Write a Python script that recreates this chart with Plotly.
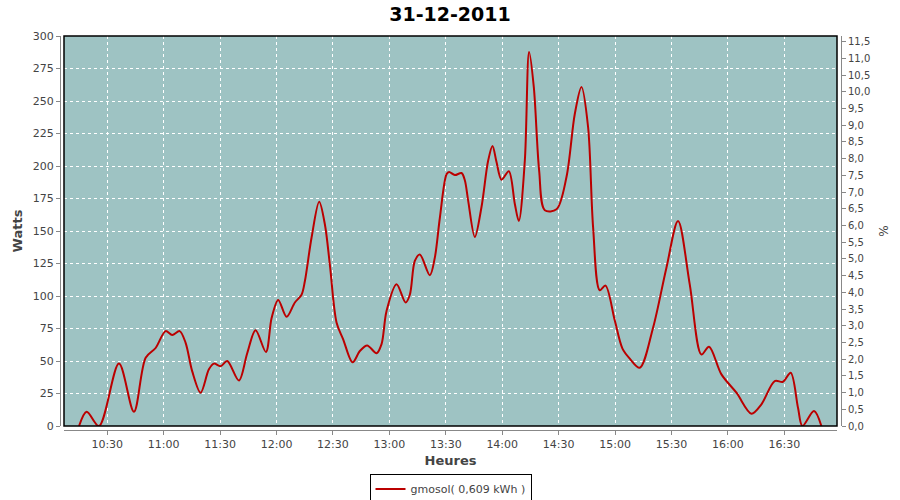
import plotly.graph_objects as go

DAY = "2011-12-31 "
times = ["10:15:00", "10:19:03", "10:25:35", "10:36:13", "10:44:11", "10:50:25", "10:55:43",
         "11:01:02", "11:04:33", "11:08:29", "11:11:40", "11:15:11", "11:19:38", "11:24:03",
         "11:26:43", "11:30:16", "11:33:47", "11:40:00", "11:44:25", "11:48:52", "11:54:21",
         "11:57:23", "12:00:53", "12:05:21", "12:09:46", "12:13:19", "12:15:05", "12:18:38",
         "12:22:41", "12:25:43", "12:28:22", "12:31:56", "12:35:26", "12:40:26", "12:44:19",
         "12:48:11", "12:53:11", "12:55:50", "12:58:30", "13:03:49", "13:08:36", "13:10:53",
         "13:13:32", "13:16:12", "13:21:31", "13:24:10", "13:26:50", "13:30:23", "13:31:46",
         "13:34:48", "13:38:22", "13:40:07", "13:41:52", "13:45:26", "13:48:59", "13:52:30",
         "13:54:50", "13:56:58", "13:59:37", "14:03:30", "14:06:41", "14:08:49", "14:12:01",
         "14:14:17", "14:16:47", "14:19:37", "14:22:38", "14:28:52", "14:34:10", "14:38:35",
         "14:42:08", "14:45:39", "14:48:19", "14:51:52", "14:54:54", "14:59:50", "15:03:56",
         "15:07:49", "15:13:08", "15:20:12", "15:27:19", "15:33:29", "15:39:42", "15:45:55",
         "15:49:58", "15:56:33", "16:04:32", "16:12:30", "16:17:49", "16:24:53", "16:29:17",
         "16:33:23", "16:37:16", "16:39:36", "16:45:46", "16:49:42"]
watts = [0, 11, 0, 48, 11, 52.5, 60,
         73, 70, 73, 64, 42, 25.6, 43.6,
         48, 46, 50, 35, 56, 73.6, 57,
         83, 97, 84, 95, 101, 111.5, 145,
         172.5, 155, 124, 79.5, 66.7, 49, 57.7,
         62, 56, 63, 88.5, 109, 95, 101,
         127, 132, 116, 129.5, 160, 193.6, 195.4,
         193, 194.6, 189, 173.6, 145.4, 168.5, 204,
         215.4, 203, 189.5, 196, 171, 157.7, 204,
         287.7, 260.8, 196.7, 166, 166.7, 191.5, 240,
         260.8, 230, 153, 104.4, 108, 81.3, 59.5,
         51.8, 44.8, 75.6, 121.8, 157.7, 109, 55,
         61, 39.7, 25.6, 9.5, 16.7, 34.6, 34,
         41, 14, 0, 11.5, 0]

tick_times = ["10:30", "11:00", "11:30", "12:00", "12:30", "13:00", "13:30",
              "14:00", "14:30", "15:00", "15:30", "16:00", "16:30"]
x_range = ["10:07:00", "16:58:00"]
watts_range = [0, 300]
pct_range = [0, 11.67]
series_name = "gmosol( 0,609 kWh )"
title_text = "31-12-2011"

x = [DAY + t for t in times]
GRAY = "#444444"
AXIS = "#888888"
FONT = "DejaVu Sans"

fig = go.Figure()
fig.add_trace(go.Scatter(
    x=x, y=watts, mode="lines", name=series_name,
    line=dict(color="#bb0000", width=2, shape="spline", smoothing=0.9),
    hoverinfo="skip",
))
fig.add_trace(go.Scatter(
    x=[x[0]], y=[None], yaxis="y2", mode="lines", showlegend=False, hoverinfo="skip",
))

W, H = 900, 500
ml, mr, mt, mb = 60, 59, 36, 70
pw = W - ml - mr
ph = H - mt - mb

fig.update_layout(
    width=W, height=H,
    margin=dict(l=ml, r=mr, t=mt, b=mb, pad=0, autoexpand=False),
    paper_bgcolor="white",
    plot_bgcolor="#9ec3c3",
    separators=",.",
    font=dict(family=FONT, size=11, color=GRAY),
    title=dict(text="<b>" + title_text + "</b>", x=0.5, xanchor="center",
               yref="container", y=1 - 14 / H, yanchor="middle", automargin=False,
               font=dict(family=FONT, size=19, color="black")),
    showlegend=True,
    legend=dict(orientation="h", x=0.5, xanchor="center", y=-(489 - 430) / ph, yanchor="middle",
                bordercolor="black", borderwidth=1, bgcolor="white",
                font=dict(family=FONT, size=11, color=GRAY), itemwidth=30),
    xaxis=dict(
        type="date", domain=[4 / pw, 1 - 4 / pw], automargin=False,
        range=[DAY + x_range[0], DAY + x_range[1]],
        tickvals=[DAY + t for t in tick_times], ticktext=tick_times,
        showgrid=True, gridcolor="white", griddash="dot", gridwidth=1,
        showline=True, linecolor=AXIS, linewidth=1,
        ticks="outside", ticklen=4, tickcolor=AXIS,
        anchor="free", position=0, zeroline=False,
        title=dict(text="<b>Heures</b>", font=dict(family=FONT, size=13, color=GRAY), standoff=5),
    ),
    yaxis=dict(
        domain=[4 / ph, 1], range=watts_range, dtick=25, tick0=0, automargin=False,
        showgrid=True, gridcolor="white", griddash="dot", gridwidth=1,
        showline=True, linecolor=AXIS, linewidth=1,
        ticks="outside", ticklen=4, tickcolor=AXIS,
        anchor="free", position=0, zeroline=False,
        title=dict(text="<b>Watts</b>", font=dict(family=FONT, size=13, color=GRAY), standoff=6),
    ),
    yaxis2=dict(
        overlaying="y", side="right", range=pct_range, dtick=0.5, tick0=0, tickformat=".1f",
        showgrid=False, showline=True, linecolor=AXIS, linewidth=1, automargin=False,
        ticks="outside", ticklen=4, tickcolor=AXIS, tickfont=dict(size=10),
        anchor="free", position=1, zeroline=False,
        title=dict(text="%", font=dict(family=FONT, size=12, color=GRAY), standoff=10),
    ),
)
fig.add_shape(type="rect", xref="x domain", yref="y domain", x0=0, x1=1, y0=0, y1=1,
              line=dict(color="black", width=1.5), fillcolor="rgba(0,0,0,0)", layer="above")

fig.write_html("out.html", config={"displayModeBar": False},
               post_script="document.body.style.margin='0';")
